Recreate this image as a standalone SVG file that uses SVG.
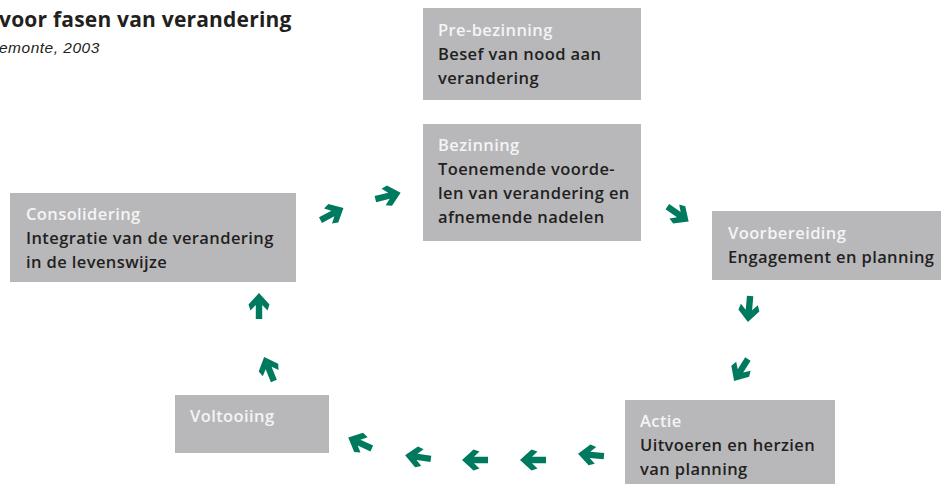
<svg xmlns="http://www.w3.org/2000/svg" width="941" height="484" viewBox="0 0 941 484">
<defs>
<style>
.box{fill:#b8b8bb}
.t{font-family:"Open Sans","Liberation Sans",sans-serif;font-size:16.5px;font-weight:600;letter-spacing:0.4px}
.h{fill:#f4f4f4}
.b{fill:#231f20}
.arr{fill:#007a5e}
</style>
<path id="a" d="M-13,-3.2 L1,-3.2 L-4.5,-8.5 L1.5,-10.5 L13,0 L1.5,10.5 L-4.5,8.5 L1,3.2 L-13,3.2 Z"/>
</defs>
<rect width="941" height="484" fill="#fff"/>
<text x="-1" y="27" font-family="Open Sans, Liberation Sans, sans-serif" font-size="21" font-weight="700" letter-spacing="0.2" fill="#231f20">voor fasen van verandering</text>
<text x="-1" y="53" font-family="Liberation Sans, Arial, sans-serif" font-size="15.5" font-style="italic" letter-spacing="0.5" fill="#231f20">emonte, 2003</text>
<g id="pre-bezinning">
<rect class="box" x="423" y="8" width="218" height="92"/>
<text class="t h" x="438" y="36">Pre-bezinning</text>
<text class="t b" x="438" y="60">Besef van nood aan</text>
<text class="t b" x="438" y="84">verandering</text>
</g>
<g id="bezinning">
<rect class="box" x="423" y="124" width="218" height="117"/>
<text class="t h" x="438" y="151">Bezinning</text>
<text class="t b" x="438" y="175">Toenemende voorde-</text>
<text class="t b" x="438" y="199">len van verandering en</text>
<text class="t b" x="438" y="223">afnemende nadelen</text>
</g>
<g id="voorbereiding">
<rect class="box" x="712" y="211" width="229" height="69"/>
<text class="t h" x="728" y="239">Voorbereiding</text>
<text class="t b" x="728" y="263">Engagement en planning</text>
</g>
<g id="actie">
<rect class="box" x="625" y="400" width="210" height="84"/>
<text class="t h" x="640" y="427">Actie</text>
<text class="t b" x="640" y="451">Uitvoeren en herzien</text>
<text class="t b" x="640" y="475">van planning</text>
</g>
<g id="voltooiing">
<rect class="box" x="175" y="395" width="154" height="58"/>
<text class="t h" x="190" y="422">Voltooiing</text>
</g>
<g id="consolidering">
<rect class="box" x="10" y="193" width="286" height="89"/>
<text class="t h" x="26" y="220">Consolidering</text>
<text class="t b" x="26" y="244">Integratie van de verandering</text>
<text class="t b" x="26" y="268">in de levenswijze</text>
</g>
<g id="connectors" class="arr">
<use href="#a" transform="translate(332,214) rotate(-28)"/>
<use href="#a" transform="translate(388,196) rotate(-14)"/>
<use href="#a" transform="translate(678,214) rotate(35)"/>
<use href="#a" transform="translate(749,309) rotate(95)"/>
<use href="#a" transform="translate(741,370) rotate(122)"/>
<use href="#a" transform="translate(591,455) rotate(185)"/>
<use href="#a" transform="translate(533,460) rotate(180)"/>
<use href="#a" transform="translate(475,460) rotate(180)"/>
<use href="#a" transform="translate(418,457) rotate(188)"/>
<use href="#a" transform="translate(360,443) rotate(205)"/>
<use href="#a" transform="translate(269,369) rotate(-112)"/>
<use href="#a" transform="translate(259,306) rotate(-90)"/>
</g>
</svg>
